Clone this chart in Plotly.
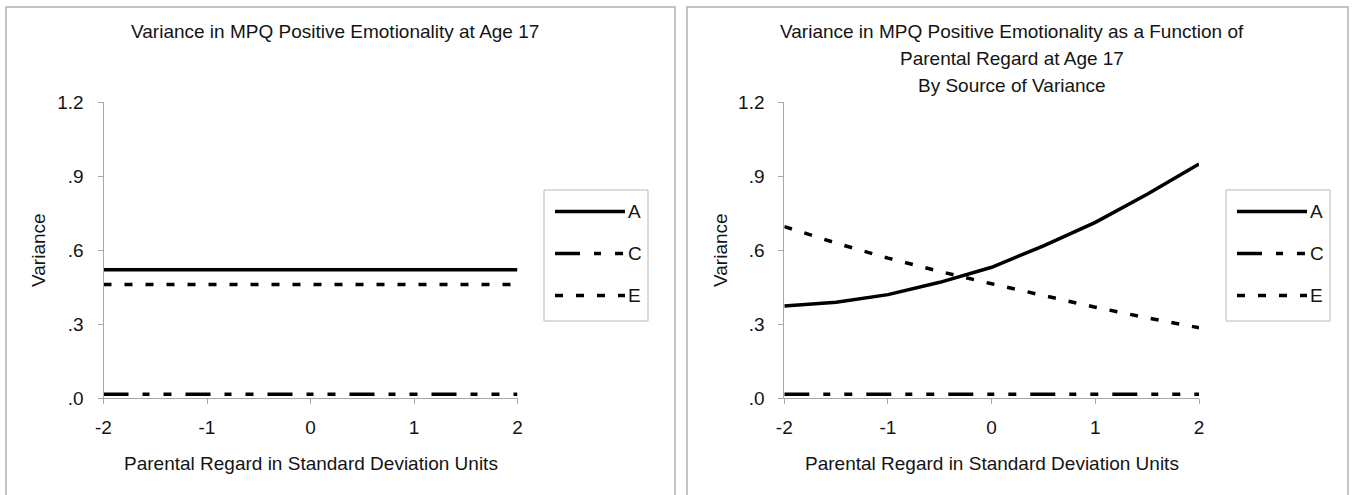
import plotly.graph_objects as go

W, H = 1353, 495

# ---------------- data ----------------
x_vals = [-2, -1.5, -1, -0.5, 0, 0.5, 1, 1.5, 2]

left_A = [0.52, 0.52, 0.52, 0.52, 0.52, 0.52, 0.52, 0.52, 0.52]
left_C = [0.015, 0.015, 0.015, 0.015, 0.015, 0.015, 0.015, 0.015, 0.015]
left_E = [0.46, 0.46, 0.46, 0.46, 0.46, 0.46, 0.46, 0.46, 0.46]

right_A = [0.373, 0.388, 0.419, 0.469, 0.530, 0.617, 0.712, 0.826, 0.949]
right_C = [0.015, 0.015, 0.015, 0.015, 0.015, 0.015, 0.015, 0.015, 0.015]
right_E = [0.695, 0.628, 0.567, 0.513, 0.463, 0.416, 0.368, 0.325, 0.285]

series_names = ["A", "C", "E"]
x_ticks = [-2, -1, 0, 1, 2]
x_tick_text = ["-2", "-1", "0", "1", "2"]
y_ticks = [0, 0.3, 0.6, 0.9, 1.2]
y_tick_text = [".0", ".3", ".6", ".9", "1.2"]

left_title = ["Variance in MPQ Positive Emotionality at Age 17"]
right_title = ["Variance in MPQ Positive Emotionality as a Function of",
               "Parental Regard at Age 17",
               "By Source of Variance"]
x_title = "Parental Regard in Standard Deviation Units"
y_title = "Variance"

# ---------------- styles ----------------
FONT = "Liberation Sans, Arial, sans-serif"
FS = 19
TXT = "#141414"
AXC = "#a8a8a8"
DASH = {"A": "solid", "C": "25px,14px,7px,14px,8px,14px", "E": "8px,13px"}
LW = 3.5


def px(x):
    return x / W


def py(y):
    return 1 - y / H


fig = go.Figure()

panels = [
    dict(xa="x", ya="y", data=[left_A, left_C, left_E]),
    dict(xa="x2", ya="y2", data=[right_A, right_C, right_E]),
]
for p in panels:
    for name, vals in zip(series_names, p["data"]):
        fig.add_trace(go.Scatter(
            x=x_vals, y=vals, mode="lines", name=name, showlegend=False,
            xaxis=p["xa"], yaxis=p["ya"],
            line=dict(color="black", width=LW, dash=DASH[name]),
            hoverinfo="skip"))

ytop, ybot = 102.0, 398.0
axis_common = dict(showgrid=False, zeroline=False, showline=True, linecolor=AXC,
                   linewidth=1, ticks="outside", tickcolor=AXC, ticklen=5,
                   automargin=False,
                   tickfont=dict(family=FONT, size=FS, color=TXT))

fig.update_layout(
    width=W, height=H, margin=dict(l=0, r=0, t=0, b=0, autoexpand=False),
    paper_bgcolor="white", plot_bgcolor="white", showlegend=False,
    xaxis=dict(domain=[px(103.5), px(517.5)], range=[-2, 2], tickvals=x_ticks,
               ticktext=x_tick_text, anchor="y", ticklabelstandoff=7, **axis_common),
    yaxis=dict(domain=[py(ybot), py(ytop)], range=[0, 1.2], tickvals=y_ticks,
               ticktext=y_tick_text, anchor="x", ticklabelstandoff=10, **axis_common),
    xaxis2=dict(domain=[px(784.3), px(1199.0)], range=[-2, 2], tickvals=x_ticks,
                ticktext=x_tick_text, anchor="y2", ticklabelstandoff=7, **axis_common),
    yaxis2=dict(domain=[py(ybot), py(ytop)], range=[0, 1.2], tickvals=y_ticks,
                ticktext=y_tick_text, anchor="x2", ticklabelstandoff=10, **axis_common),
)

shapes = []
annots = []

# panel borders
for (bx0, bx1) in [(6, 675), (687, 1348)]:
    shapes.append(dict(type="rect", xref="paper", yref="paper",
                       x0=px(bx0), x1=px(bx1), y0=py(520), y1=py(7),
                       line=dict(color="#b0b0b0", width=1.5), fillcolor="rgba(0,0,0,0)"))


def text(x, y, s, angle=0, anchor="center"):
    annots.append(dict(xref="paper", yref="paper", x=px(x), y=py(y), text=s,
                       showarrow=False, xanchor=anchor, yanchor="middle",
                       textangle=angle,
                       font=dict(family=FONT, size=FS, color=TXT)))


# titles
text(335, 32, left_title[0])
for i, line in enumerate(right_title):
    text(1012, 32 + i * 26.5, line)

# axis titles
text(38, 250, y_title, angle=-90)
text(720, 250, y_title, angle=-90)
text(310.5, 463, x_title)
text(991.5, 463, x_title)

# legends
for lx in [544, 1226]:
    shapes.append(dict(type="rect", xref="paper", yref="paper",
                       x0=px(lx), x1=px(lx + 104), y0=py(321), y1=py(190),
                       line=dict(color="#b8b8b8", width=1), fillcolor="white"))
    for i, name in enumerate(series_names):
        yy = 211.5 + i * 42
        shapes.append(dict(type="line", xref="paper", yref="paper",
                           x0=px(lx + 11), x1=px(lx + 81), y0=py(yy), y1=py(yy),
                           line=dict(color="black", width=LW, dash=DASH[name])))
        text(lx + 82, yy, name, anchor="left")

fig.update_layout(shapes=shapes, annotations=annots)
fig.write_html("out.html", config={"displayModeBar": False},
               post_script="document.body.style.margin='0';")
